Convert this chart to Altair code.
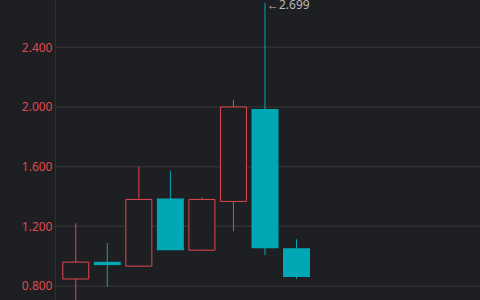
import altair as alt
import pandas as pd

idx = [1, 2, 3, 4, 5, 6, 7, 8]
open_ = [0.847, 0.962, 0.933, 1.387, 1.040, 1.367, 1.987, 1.053]
close = [0.960, 0.940, 1.380, 1.040, 1.380, 2.000, 1.053, 0.860]
high = [1.220, 1.087, 1.600, 1.573, 1.393, 2.047, 2.699, 1.113]
low = [0.650, 0.793, 0.933, 1.040, 1.035, 1.167, 1.007, 0.847]
y_ticks = [0.8, 1.2, 1.6, 2.0, 2.4]

df = pd.DataFrame({"i": idx, "open": open_, "close": close, "high": high, "low": low})
df["dir"] = ["up" if c >= o else "down" for o, c in zip(open_, close)]

BG = "#1e1f22"
RED = "#e0474f"
CYAN = "#00a8b5"

xs = alt.Scale(domain=[0.5, 13.66], nice=False, zero=False)
ys = alt.Scale(domain=[0.706, 2.717], nice=False, zero=False)

x = alt.X("i:Q", scale=xs, axis=None)
color = alt.Color("dir:N", scale=alt.Scale(domain=["up", "down"], range=[RED, CYAN]), legend=None)

base = alt.Chart(df)

grid = alt.Chart(pd.DataFrame({"t": y_ticks})).mark_rule(color="#303135", strokeWidth=1.5).encode(
    y=alt.Y("t:Q", scale=ys,
            axis=alt.Axis(values=y_ticks, format=".3f", grid=False, domain=True, domainColor="#303135",
                          ticks=False, labelColor=RED, labelFontSize=12, labelPadding=3,
                          labelFont="Noto Sans", title=None)),
)

wick = base.mark_rule(strokeWidth=1, clip=True).encode(
    x=x, y=alt.Y("low:Q", scale=ys), y2="high:Q", color=color
)

body_up = base.transform_filter("datum.dir == 'up'").mark_bar(
    size=26, fill=BG, stroke=RED, strokeWidth=1, clip=True
).encode(x=x, y=alt.Y("open:Q", scale=ys), y2="close:Q")

body_down = base.transform_filter("datum.dir == 'down'").mark_bar(
    size=27, color=CYAN, clip=True
).encode(x=x, y=alt.Y("open:Q", scale=ys), y2="close:Q")

label = base.transform_filter("datum.high == 2.699").mark_text(
    align="left", baseline="middle", dx=2, dy=2, color="#b8b8b8", fontSize=12, font="Noto Sans"
).encode(x=x, y=alt.Y("high:Q", scale=ys), text=alt.value("←2.699"))

chart = alt.layer(grid, wick, body_up, body_down, label).properties(
    width=425, height=300,
    autosize=alt.AutoSizeParams(type="none"),
    padding={"left": 55, "top": 0, "right": 0, "bottom": 0},
    background=BG,
).configure_view(stroke=None)

chart.save("out.html", embed_options={"renderer": "svg", "actions": False})
